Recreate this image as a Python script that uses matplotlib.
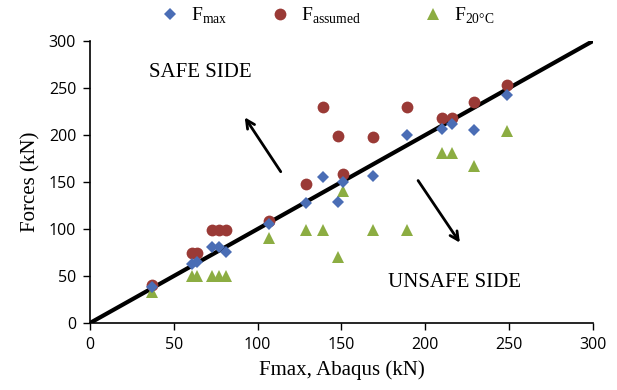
import matplotlib
matplotlib.use("Agg")
import matplotlib.pyplot as plt
from matplotlib.lines import Line2D

# Fmax from Abaqus (kN)
x_abaqus = [37, 61, 64, 73, 77, 81, 107, 129, 139, 148, 151, 169, 189, 210, 216, 229, 249]
f_max = [38, 63, 65, 81, 81, 76, 105, 128, 155, 129, 150, 156, 200, 206, 212, 205, 243]
f_assumed = [40, 74, 74, 99, 99, 99, 109, 148, 230, 199, 159, 198, 230, 218, 218, 235, 253]
f_20c = [33, 50, 50, 50, 50, 50, 90, 99, 99, 70, 140, 99, 99, 181, 181, 167, 204]

line_x = [0, 300]
ticks = [0, 50, 100, 150, 200, 250, 300]

SERIF = ["Liberation Serif", "DejaVu Serif"]
SANS = ["Open Sans", "DejaVu Sans"]

plt.rcParams["mathtext.fontset"] = "custom"
plt.rcParams["mathtext.rm"] = "Liberation Serif"

fig = plt.figure(figsize=(6.17, 3.9), dpi=100)
ax = fig.add_axes([0.1459, 0.1718, 0.815, 0.723])

ax.plot(line_x, line_x, color="black", lw=3, zorder=1)
h1, = ax.plot(x_abaqus, f_max, "D", color="#4a6db5", ms=6, mew=0, zorder=3,
              label=r"F$_{\mathregular{max}}$")
h2, = ax.plot(x_abaqus, f_assumed, "o", color="#9a3a36", ms=8.5, mew=0, zorder=2,
              label=r"F$_{\mathregular{assumed}}$")
h3, = ax.plot(x_abaqus, f_20c, "^", color="#8cad42", ms=9, mew=0, zorder=2,
              label=r"F$_{\mathregular{20°C}}$")

ax.annotate("", xy=(91.4, 221.3), xytext=(114.7, 158.5),
            arrowprops=dict(arrowstyle="->", lw=2, color="black", mutation_scale=15))
ax.annotate("", xy=(221.6, 83), xytext=(194.8, 154),
            arrowprops=dict(arrowstyle="->", lw=2, color="black", mutation_scale=15))

ax.text(65.6, 266, "SAFE SIDE", ha="center", va="center", fontsize=15, family=SERIF)
ax.text(217.6, 43.6, "UNSAFE SIDE", ha="center", va="center", fontsize=15, family=SERIF)

ax.set_xlim(0, 300)
ax.set_ylim(0, 300)
ax.set_xticks(ticks)
ax.set_yticks(ticks)
for lab in ax.get_xticklabels() + ax.get_yticklabels():
    lab.set_family(SANS)
    lab.set_fontsize(11.5)
ax.tick_params(direction="out", length=5, width=1, pad=5)
ax.spines["top"].set_visible(False)
ax.spines["right"].set_visible(False)
ax.spines["left"].set_linewidth(1.2)
ax.spines["bottom"].set_linewidth(1.2)

ax.set_xlabel("Fmax, Abaqus (kN)", family=SERIF, fontsize=15, labelpad=5)
ax.set_ylabel("Forces (kN)", family=SERIF, fontsize=15, labelpad=6)

# one legend per entry so the spacing can follow the reference
for h, xpos in zip([h1, h2, h3], [170, 280, 433]):
    lg = fig.legend(handles=[h], loc="center left",
                    bbox_to_anchor=((xpos - 12) / 617, 1 - 16 / 390),
                    frameon=False, prop={"family": SERIF, "size": 14},
                    handletextpad=0.5, handlelength=1.2, borderpad=0, borderaxespad=0)

fig.savefig("out.png", dpi=100, facecolor="white")
